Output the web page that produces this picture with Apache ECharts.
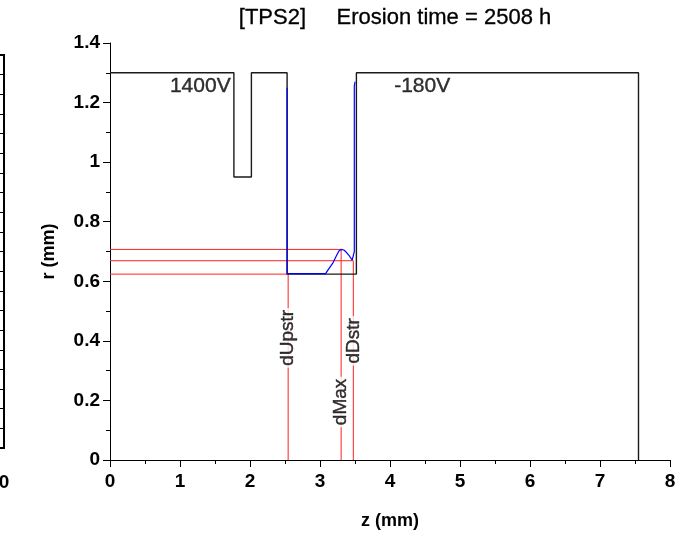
<!DOCTYPE html>
<html>
<head>
<meta charset="utf-8">
<script src="https://cdn.jsdelivr.net/npm/echarts@6/dist/echarts.min.js"></script>
<style>html,body{margin:0;padding:0;background:#fff;}#c{width:692px;height:534px;}</style>
</head>
<body>
<div id="c"></div>
<script>
// ---- data ----
var titleText = '[TPS2]     Erosion time = 2508 h';
var xTicks = [0, 1, 2, 3, 4, 5, 6, 7, 8];
var yTicks = [0, 0.2, 0.4, 0.6, 0.8, 1, 1.2, 1.4];
// electrode geometry (black)
var electrodeZ = [0, 1.77, 1.77, 2.02, 2.02, 2.53, 2.53, 3.52, 3.52, 7.55, 7.55];
var electrodeR = [1.3, 1.3, 0.95, 0.95, 1.3, 1.3, 0.624, 0.624, 1.3, 1.3, 0];
// eroded profile (blue)
var profileZ = [2.53, 2.53, 3.08, 3.12, 3.18, 3.24, 3.27, 3.30, 3.34, 3.37, 3.42, 3.46, 3.48, 3.49, 3.49, 3.50];
var profileR = [1.25, 0.626, 0.626, 0.640, 0.660, 0.688, 0.702, 0.707, 0.705, 0.699, 0.685, 0.671, 0.672, 0.70, 1.255, 1.27];
// marker depths (red)
var markerNames = ['dUpstr', 'dMax', 'dDstr'];
var markerZ = [2.545, 3.302, 3.476];
var markerR = [0.624, 0.707, 0.669];
var markerLabelR = [0.41, 0.195, 0.40];
// voltage annotations
var voltNames = ['1400V', '-180V'];
var voltZ = [1.29, 4.46];
var voltR = [1.255, 1.255];
// left neighbouring panel (cut off): tick range
var sideTicks = [0, 20];

function pairs(a, b) { return a.map(function (v, i) { return [v, b[i]]; }); }

var series = [];
markerNames.forEach(function (n, i) {
  series.push({
    type: 'line', xAxisIndex: 0, yAxisIndex: 0, symbol: 'none', silent: true,
    color: '#ff2020',
    lineStyle: { color: '#ff2020', width: 1 },
    emphasis: { disabled: true },
    data: [[0, markerR[i]], [markerZ[i], markerR[i]], [markerZ[i], 0]],
    z: 2
  });
});
series.push({
  type: 'line', symbol: 'none', silent: true, color: '#1a1a1a',
  lineStyle: { color: '#1a1a1a', width: 1.4 },
  data: pairs(electrodeZ, electrodeR), z: 3
});
series.push({
  type: 'line', symbol: 'none', silent: true, color: '#0000ff',
  lineStyle: { color: '#0000ff', width: 1.2 },
  data: pairs(profileZ, profileR), z: 4
});
series.push({
  type: 'scatter', symbolSize: 0, silent: true, z: 5,
  data: markerNames.map(function (n, i) { return { value: [markerZ[i], markerLabelR[i]], name: n }; }),
  label: {
    show: true, position: 'inside', rotate: 90, formatter: '{b}',
    fontFamily: 'Liberation Sans', fontSize: 19, color: '#000',
    textBorderColor: '#000', textBorderWidth: 0.4,
    backgroundColor: '#fff', padding: [0, 2]
  }
});
series.push({
  type: 'scatter', symbolSize: 0, silent: true, z: 5,
  data: voltNames.map(function (n, i) { return { value: [voltZ[i], voltR[i]], name: n }; }),
  label: {
    show: true, position: 'inside', formatter: '{b}',
    fontFamily: 'Liberation Sans', fontSize: 21, color: '#000',
    textBorderColor: '#000', textBorderWidth: 0.4
  }
});
series.push({
  type: 'line', xAxisIndex: 1, yAxisIndex: 1, symbol: 'none', silent: true,
  lineStyle: { opacity: 0 }, data: []
});

var chart = echarts.init(document.getElementById('c'));
chart.setOption({
  animation: false,
  backgroundColor: '#fff',
  title: {
    text: titleText, left: 390, top: 2, textAlign: 'center',
    textStyle: { fontFamily: 'Liberation Sans', fontSize: 22, fontWeight: 'normal', color: '#000',
      textBorderColor: '#000', textBorderWidth: 0.3 }
  },
  grid: [
    { left: 110, right: 22, top: 43, bottom: 74, outerBoundsMode: 'none', containLabel: false },
    { left: -96, width: 100, top: 55, height: 393, outerBoundsMode: 'none', containLabel: false,
      show: true, borderColor: '#000', borderWidth: 2, backgroundColor: 'rgba(0,0,0,0)' }
  ],
  xAxis: [{
    gridIndex: 0, type: 'value', min: xTicks[0], max: xTicks[xTicks.length - 1], interval: 1,
    name: 'z (mm)', nameLocation: 'middle', nameGap: 52,
    nameTextStyle: { fontFamily: 'Liberation Sans', fontSize: 18, fontWeight: 'bold', color: '#000' },
    axisLine: { show: true, onZero: false, lineStyle: { color: '#000', width: 1 } },
    axisTick: { show: true, inside: false, length: 7, lineStyle: { color: '#000' } },
    minorTick: { show: true, splitNumber: 2, length: 4, lineStyle: { color: '#000' } },
    splitLine: { show: false },
    axisLabel: { margin: 12, fontFamily: 'Liberation Sans', fontSize: 19, fontWeight: 'bold', color: '#000' }
  }, {
    gridIndex: 1, type: 'value', min: -20, max: 0, interval: 20,
    axisLine: { show: true, onZero: false, lineStyle: { color: '#000', width: 2 } },
    axisTick: { show: false }, splitLine: { show: false },
    axisLabel: { margin: 25, fontFamily: 'Liberation Sans', fontSize: 19, fontWeight: 'bold', color: '#000', showMinLabel: false }
  }],
  yAxis: [{
    gridIndex: 0, type: 'value', min: yTicks[0], max: yTicks[yTicks.length - 1], interval: 0.2,
    name: 'r (mm)', nameLocation: 'middle', nameGap: 52,
    nameTextStyle: { fontFamily: 'Liberation Sans', fontSize: 18, fontWeight: 'bold', color: '#000' },
    axisLine: { show: true, onZero: false, lineStyle: { color: '#000', width: 1 } },
    axisTick: { show: true, inside: false, length: 7, lineStyle: { color: '#000' } },
    minorTick: { show: true, splitNumber: 2, length: 4, lineStyle: { color: '#000' } },
    splitLine: { show: false },
    axisLabel: { margin: 10, fontFamily: 'Liberation Sans', fontSize: 19, fontWeight: 'bold', color: '#000' }
  }, {
    gridIndex: 1, type: 'value', min: sideTicks[0], max: sideTicks[1], interval: 1, position: 'right',
    axisLine: { show: true, onZero: false, lineStyle: { color: '#000', width: 2 } },
    axisTick: { show: true, inside: true, length: 5, lineStyle: { color: '#000', width: 1 } },
    splitLine: { show: false }, axisLabel: { show: false }
  }],
  series: series
});
</script>
</body>
</html>
